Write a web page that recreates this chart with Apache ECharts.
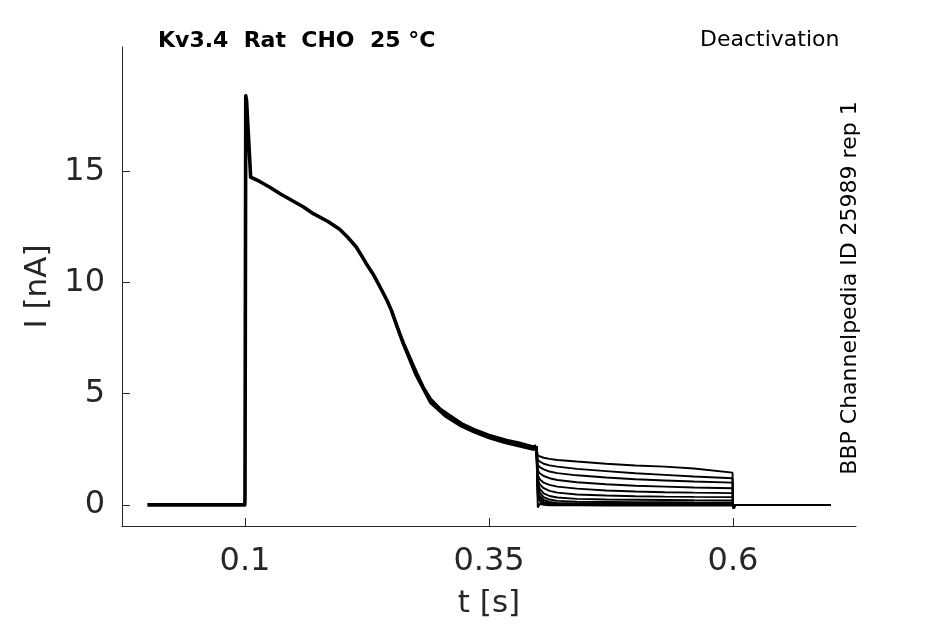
<!DOCTYPE html>
<html>
<head>
<meta charset="utf-8">
<script src="https://cdn.jsdelivr.net/npm/echarts@6/dist/echarts.min.js"></script>
<style>
  html, body { margin: 0; padding: 0; background: #fff; }
  #chart { width: 945px; height: 624px; }
</style>
</head>
<body>
<div id="chart"></div>
<script>
// baseline + activation step (shared by all sweeps)
const actT = [0, 0.0998, 0.1, 0.1008, 0.1016, 0.1058, 0.115, 0.125, 0.136, 0.15, 0.16, 0.17, 0.185, 0.197, 0.205, 0.214, 0.221, 0.225, 0.231, 0.236, 0.242, 0.246, 0.25, 0.254, 0.259, 0.263, 0.268, 0.272, 0.276, 0.283, 0.29, 0.3, 0.31, 0.322, 0.334, 0.35, 0.368, 0.38, 0.395, 0.3985];
const actI = [0, 0, 0.3, 18.4, 18.2, 14.75, 14.55, 14.3, 14.0, 13.65, 13.4, 13.1, 12.75, 12.4, 12.05, 11.6, 11.1, 10.8, 10.4, 10.0, 9.5, 9.15, 8.75, 8.25, 7.65, 7.2, 6.7, 6.3, 5.9, 5.25, 4.75, 4.3, 4.0, 3.65, 3.4, 3.12, 2.9, 2.78, 2.6, 2.65];

// lower edge of the trace bundle where sweeps spread apart
const spreadT = [0.25, 0.262, 0.275, 0.29, 0.305, 0.32, 0.335, 0.35, 0.365, 0.38, 0.395, 0.3985];
const spreadI = [8.75, 7.25, 5.85, 4.6, 4.0, 3.58, 3.27, 3.02, 2.82, 2.66, 2.5, 2.5];

// deactivation tails, one row per sweep
const tailT = [0.4, 0.402, 0.406, 0.412, 0.42, 0.44, 0.47, 0.5, 0.53, 0.56, 0.5995];
const tails = [
  [2.22, 2.18, 2.12, 2.07, 2.02, 1.95, 1.85, 1.77, 1.72, 1.64, 1.45],
  [2.0, 1.93, 1.85, 1.78, 1.72, 1.62, 1.52, 1.42, 1.35, 1.28, 1.2],
  [1.8, 1.7, 1.6, 1.5, 1.43, 1.33, 1.23, 1.15, 1.1, 1.05, 1.0],
  [1.55, 1.42, 1.3, 1.2, 1.12, 1.02, 0.93, 0.86, 0.82, 0.78, 0.75],
  [1.35, 1.15, 1.0, 0.9, 0.82, 0.73, 0.65, 0.6, 0.57, 0.55, 0.53],
  [1.15, 0.92, 0.75, 0.63, 0.55, 0.47, 0.42, 0.39, 0.37, 0.36, 0.35],
  [1.0, 0.72, 0.52, 0.4, 0.33, 0.27, 0.24, 0.23, 0.22, 0.21, 0.2],
  [0.85, 0.55, 0.35, 0.24, 0.18, 0.14, 0.13, 0.12, 0.12, 0.11, 0.1],
  [0.7, 0.4, 0.22, 0.13, 0.09, 0.07, 0.07, 0.06, 0.06, 0.05, 0.05],
  [0.55, 0.28, 0.12, 0.06, 0.04, 0.03, 0.03, 0.03, 0.02, 0.02, 0.02],
  [0.4, 0.16, 0.06, 0.02, 0.01, 0.01, 0.0, 0.0, 0.0, 0.0, 0.0],
  [-0.12, 0.05, 0.0, -0.02, -0.02, -0.02, -0.03, -0.03, -0.03, -0.03, -0.03]
];

// after the tail step
const postT = [0.6, 0.6008, 0.602, 0.7];
const postI = [0, -0.15, 0, 0];

const xTicks = [0.1, 0.35, 0.6];
const yTicks = [0, 5, 10, 15];

const FONT = 'DejaVu Sans';
const AXIS_COLOR = '#262626';

const pairs = (ts, vs) => ts.map((t, i) => [t, vs[i]]);

const series = [];
series.push({
    type: 'line', data: pairs(actT, actI), showSymbol: false, silent: true,
    lineStyle: { color: '#000', width: 3.6, join: 'round' }
});
series.push({
    type: 'line', data: pairs(spreadT, spreadI), showSymbol: false, silent: true,
    lineStyle: { color: '#000', width: 3, join: 'round' }
});
tails.forEach(vals => {
    const d = [[actT[actT.length - 1], actI[actI.length - 1]]]
        .concat(pairs(tailT, vals))
        .concat(pairs(postT, postI));
    series.push({
        type: 'line', data: d, showSymbol: false, silent: true,
        lineStyle: { color: '#000', width: 1.9 }
    });
});

const chart = echarts.init(document.getElementById('chart'), null, { renderer: 'canvas' });
chart.setOption({
    animation: false,
    backgroundColor: '#fff',
    grid: { left: 122, right: 89, top: 47, bottom: 98 },
    xAxis: {
        type: 'value', min: -0.026, max: 0.726,
        name: 't [s]', nameLocation: 'middle', nameGap: 62,
        nameTextStyle: { fontFamily: FONT, fontSize: 31, color: AXIS_COLOR },
        axisLine: { onZero: false, lineStyle: { color: AXIS_COLOR, width: 1 } },
        axisTick: { inside: true, length: 8, customValues: xTicks, lineStyle: { color: AXIS_COLOR } },
        axisLabel: { customValues: xTicks, margin: 20, fontFamily: FONT, fontSize: 32, color: AXIS_COLOR,
                     formatter: v => String(v) },
        splitLine: { show: false }
    },
    yAxis: {
        type: 'value', min: -0.95, max: 20.6,
        name: 'I [nA]', nameLocation: 'middle', nameGap: 62, nameRotate: 90,
        nameTextStyle: { fontFamily: FONT, fontSize: 31, color: AXIS_COLOR },
        axisLine: { show: true, onZero: false, lineStyle: { color: AXIS_COLOR, width: 1 } },
        axisTick: { show: true, inside: true, length: 8, customValues: yTicks, lineStyle: { color: AXIS_COLOR } },
        axisLabel: { customValues: yTicks, margin: 17, fontFamily: FONT, fontSize: 32, color: AXIS_COLOR },
        splitLine: { show: false }
    },
    graphic: [
        { type: 'text', left: 158, top: 30,
          style: { text: 'Kv3.4  Rat  CHO  25 °C', font: 'bold 22px "DejaVu Sans"', fill: '#000' } },
        { type: 'text', left: 700, top: 29,
          style: { text: 'Deactivation', font: '22px "DejaVu Sans"', fill: '#000' } },
        { type: 'text', x: 850, y: 288, rotation: Math.PI / 2,
          style: { text: 'BBP Channelpedia ID 25989 rep 1', font: '22px "DejaVu Sans"', fill: '#000',
                   align: 'center', verticalAlign: 'middle' } }
    ],
    series: series
});
</script>
</body>
</html>
